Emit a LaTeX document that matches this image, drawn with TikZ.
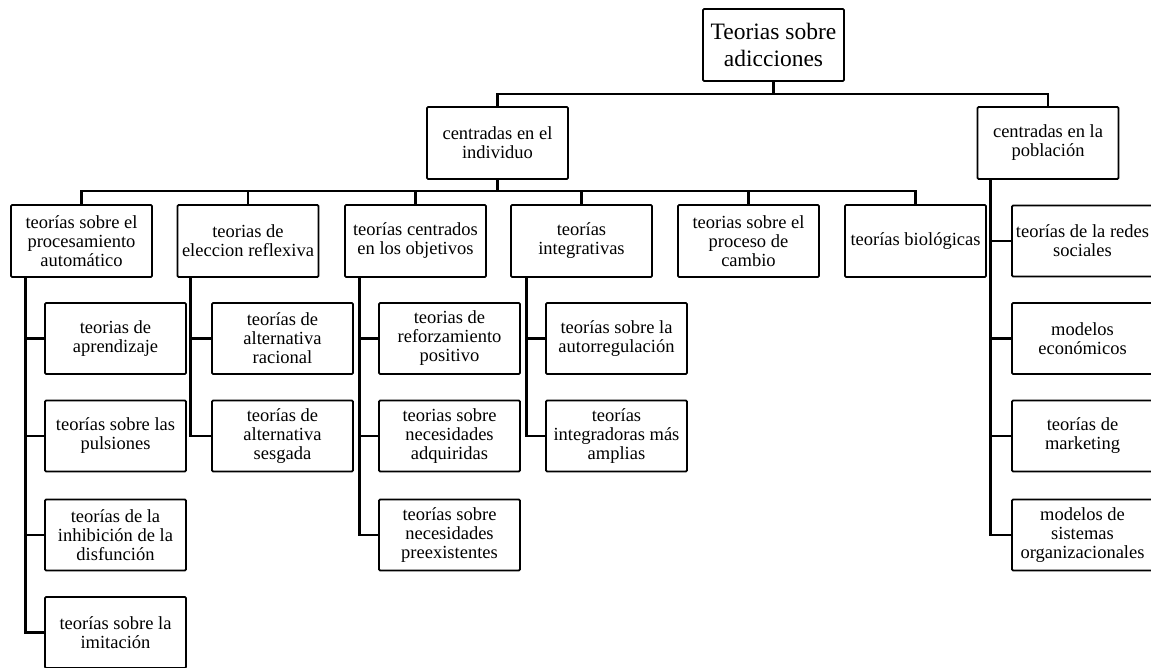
\documentclass[tikz,border=0pt]{standalone}
\usepackage{fontspec}
\setmainfont{Liberation Serif}
\begin{document}
\begin{tikzpicture}[x=1pt,y=-1pt,
  box/.style={draw=black, line width=1.8pt, rounded corners=1.2pt, minimum width=141pt, minimum height=71pt, inner sep=0pt, align=center, font=\fontsize{18.5}{19}\selectfont},
  rootbox/.style={box, minimum height=72pt, font=\fontsize{23.5}{26.5}\selectfont},
  link/.style={draw=black, line width=2.8pt}
]
\useasboundingbox (0,0) rectangle (1151,667);
% root
\node[rootbox] (root) at (773.5,45) {Teorias sobre\\adicciones};
% level 1
\node[box, minimum height=72pt] (ind) at (497.5,143) {centradas en el\\individuo};
\node[box, minimum height=72pt] (pop) at (1048,143) {centradas en la\\población};
% level 2
\node[box, minimum height=72pt] (proc) at (81.5,241) {teorías sobre el\\procesamiento\\automático};
\node[box, minimum height=72pt] (elec) at (248,241) {teorias de\\eleccion  reflexiva};
\node[box, minimum height=72pt] (cent) at (415.5,241) {teorías centrados\\en los objetivos};
\node[box, minimum height=72pt] (integ) at (581.5,241) {teorías\\integrativas};
\node[box, minimum height=72pt] (camb) at (748.5,241) {teorias sobre el\\proceso de\\cambio};
\node[box, minimum height=72pt] (bio) at (915.5,241) {teorías biológicas};
% population children
\node[box] (p1) at (1082.5,241) {teorías de la redes\\sociales};
\node[box] (p2) at (1082.5,338.5) {modelos\\económicos};
\node[box] (p3) at (1082.5,436) {teorías de\\marketing};
\node[box] (p4) at (1082.5,535) {modelos de\\sistemas\\organizacionales};
% procesamiento children
\node[box] (a1) at (115.5,338.5) {teorias de\\aprendizaje};
\node[box] (a2) at (115.5,436) {teorías sobre las\\pulsiones};
\node[box] (a3) at (115.5,535) {teorías de la\\inhibición de la\\disfunción};
\node[box] (a4) at (115.5,632.5) {teorías sobre la\\imitación};
% eleccion children
\node[box] (e1) at (282.5,338.5) {teorías de\\alternativa\\racional};
\node[box] (e2) at (282.5,436) {teorías de\\alternativa\\sesgada};
% centrados children
\node[box] (c1) at (449.5,338.5) {teorias de\\reforzamiento\\positivo};
\node[box] (c2) at (449.5,436) {teorias sobre\\necesidades\\adquiridas};
\node[box] (c3) at (449.5,535) {teorías sobre\\necesidades\\preexistentes};
% integrativas children
\node[box] (i1) at (616.5,338.5) {teorías sobre la\\autorregulación};
\node[box] (i2) at (616.5,436) {teorías\\integradoras más\\amplias};
% buses
\coordinate (b1) at (773.5,94);
\coordinate (b2) at (497.5,191);
\draw[link] (ind.north) |- (b1) -| (pop.north);
\draw[link] (root.south) -- (b1);
\draw[link] (proc.north) |- (b2) -| (bio.north);
\draw[link] (ind.south) -- (b2);
\foreach \n in {elec,cent,integ,camb} \draw[link] (\n.north) -- (\n.north |- b2);
% children connectors
\draw[link] ([xshift=15pt]proc.south west) |- (a4.west);
\foreach \c in {a1,a2,a3} \draw[link] ([xshift=15pt]proc.south west |- \c.west) -- (\c.west);
\draw[link] ([xshift=14pt]elec.south west) |- (e2.west);
\draw[link] ([xshift=14pt]elec.south west |- e1.west) -- (e1.west);
\draw[link] ([xshift=15pt]cent.south west) |- (c3.west);
\foreach \c in {c1,c2} \draw[link] ([xshift=15pt]cent.south west |- \c.west) -- (\c.west);
\draw[link] ([xshift=16pt]integ.south west) |- (i2.west);
\draw[link] ([xshift=16pt]integ.south west |- i1.west) -- (i1.west);
\draw[link] ([xshift=14pt]pop.south west) |- (p4.west);
\foreach \c in {p1,p2,p3} \draw[link] ([xshift=14pt]pop.south west |- \c.west) -- (\c.west);
\end{tikzpicture}
\end{document}
